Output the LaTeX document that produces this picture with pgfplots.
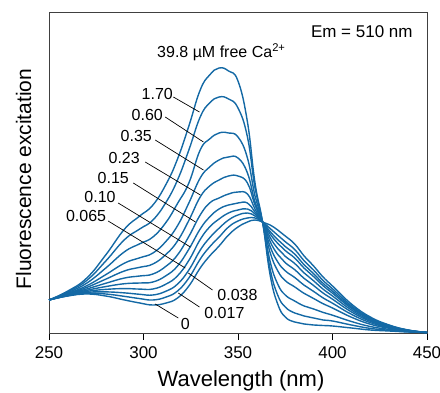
\documentclass[border=0pt]{standalone}
\usepackage{fontspec}
\setmainfont{Liberation Sans}
\usepackage{pgfplots}
\pgfplotsset{compat=1.18}
\usepackage{pgfplotstable}
\definecolor{curve}{RGB}{20,105,165}
\pgfplotsset{spec/.style={color=curve, solid, line width=1.4pt, smooth, tension=0.75, mark=none}}
\pgfplotstableread{
nm  c0   c017  c038  c065  c10   c15   c23   c35   c60   c170  c398
250 33   33    33    33    33    33    33    33    33    33    33
260 37   37.3  37.5  37.8  38.2  38.6  39    39.6  40.4  41.3  42
270 39   39.8  40.6  41.6  42.7  44    45.6  47.3  49.9  52.6  55
280 37   39    41.1  43.6  46.4  49.7  53.8  58.3  64.9  71.9  78
290 33   36.6  40.1  44.4  49.3  55    62.1  69.9  81.3  93.4  104
298 30   34.4  38.7  43.9  50    57    65.7  75.2  89.2  104   117
305 28   33    38    44    51    59    69    80    96    113   128
312 30   36    41.9  49    57.4  66.9  78.8  91.9  110.9 131   149
318 35   42    48.9  57.2  67    78.1  92    107.3 129.5 153   174
324 47   55    63    72.6  83.8  96.6  112.6 130   150   183   207
330 65   73.9  82.8  93.5  104   118   136   155   183   216   243
335 77   86.1  95.2  106   116   130   147   166   194   230   258
340 87   95.9  104.8 114   124   135   153   173   200   236   265
345 98   106   113   120   128   139   157   176   200   234   262
350 106  112   118   123   130   141   157   175   196   225   252
355 111  115   120   124   130   139   150   160   175   196   211
359 113  115   117   119   121   124   128   131   137   145   150
363 111  111   111   111   111   111   111   111   111   111   111
367 108  104.5 101.5 99    95.5  91.5  86.5  80.5  71.5  64    58
371 103  97.8  93.4  89.7  84.5  78.6  71.2  62.3  49    38    29
375 97   91.3  86.5  82.4  76.7  70.3  62.2  52.4  38    26    16
380 89   83.5  78.9  75    69.5  63.3  55.5  46.1  32    20    11
385 77   72.2  68.2  64.8  60    54.6  47.8  39.6  27    17    9
390 67   62.9  59.3  56.4  52.2  47.5  41.6  34.5  24    15    8
395 56   52.6  49.7  47.3  43.9  40    35.1  29.3  20.6  13    7.5
400 47   44.2  41.8  39.8  37    33.8  29.8  25    17.8  12    7
410 29   27.3  25.9  24.7  23    21.1  18.7  15.8  11.5  8     5
420 16   15.1  14.3  13.7  12.7  11.7  10.4  8.8   6.5   4.6   3
430 8    7.6   7.2   6.9   6.5   6     5.4   4.7   3.6   2.7   2
440 3    2.9   2.7   2.6   2.5   2.3   2.1   1.9   1.5   1.2   1
450 0.5  0.5   0.5   0.5   0.5   0.5   0.5   0.5   0.5   0.5   0.5
}\spectra
\begin{document}
\begin{tikzpicture}
\begin{axis}[
  scale only axis, width=378pt, height=321pt,
  xmin=250, xmax=450, ymin=0, ymax=321,
  xtick={250,300,350,400,450}, ytick=\empty,
  xtick pos=bottom, tick align=outside, major tick length=7pt,
  axis line style={black!75, line width=0.8pt},
  tick style={black, line width=0.8pt},
  /pgf/number format/assume math mode=true,
  xticklabel style={font=\fontsize{17}{17}\selectfont, yshift=-3pt},
  xlabel={Wavelength (nm)},
  xlabel style={font=\fontsize{22}{22}\selectfont, at={(axis description cs:0.508,0)}, anchor=base, yshift=-54pt},
  ylabel={Fluorescence excitation},
  ylabel style={font=\fontsize{21}{21}\selectfont, at={(axis description cs:-0.0476,0.48)}, anchor=base},
  clip=false,
]
\coordinate (SW) at (rel axis cs:0,0);
\coordinate (NE) at (rel axis cs:1,1);
\addplot[spec] table[x=nm, y=c0] {\spectra};
\addplot[spec] table[x=nm, y=c017] {\spectra};
\addplot[spec] table[x=nm, y=c038] {\spectra};
\addplot[spec] table[x=nm, y=c065] {\spectra};
\addplot[spec] table[x=nm, y=c10] {\spectra};
\addplot[spec] table[x=nm, y=c15] {\spectra};
\addplot[spec] table[x=nm, y=c23] {\spectra};
\addplot[spec] table[x=nm, y=c35] {\spectra};
\addplot[spec] table[x=nm, y=c60] {\spectra};
\addplot[spec] table[x=nm, y=c170] {\spectra};
\addplot[spec] table[x=nm, y=c398] {\spectra};
% annotations
\begin{scope}[every node/.style={font=\fontsize{16}{16}\selectfont, inner sep=0pt}]
\node at (axis cs:415.5,301) {\fontsize{17}{17}\selectfont Em = 510 nm};
\node at (axis cs:341.2,281) {39.8 µM free Ca\textsuperscript{2+}};
\node at (axis cs:307.3,239) {1.70};
\node at (axis cs:302,218) {0.60};
\node at (axis cs:296.2,197) {0.35};
\node at (axis cs:289.8,175) {0.23};
\node at (axis cs:284,155) {0.15};
\node at (axis cs:277,136) {0.10};
\node at (axis cs:269.6,117) {0.065};
\node at (axis cs:349.7,38) {0.038};
\node at (axis cs:342.8,20) {0.017};
\node at (axis cs:322.1,9) {0};
\end{scope}
\begin{scope}[black, line width=0.7pt]
\draw (axis cs:315.8,236) -- (axis cs:329.6,221);
\draw (axis cs:311.5,216) -- (axis cs:331.7,191);
\draw (axis cs:306.2,193) -- (axis cs:331.7,163);
\draw (axis cs:300.9,171) -- (axis cs:330.1,138);
\draw (axis cs:294.6,150) -- (axis cs:327.5,111);
\draw (axis cs:286.6,130) -- (axis cs:324.8,86);
\draw (axis cs:281.3,112) -- (axis cs:322.1,65);
\draw (axis cs:336.5,43) -- (axis cs:323.7,60);
\draw (axis cs:329.6,26) -- (axis cs:318.4,40);
\draw (axis cs:318.4,15) -- (axis cs:306.2,29);
\end{scope}
\end{axis}
\pgfresetboundingbox
\path[use as bounding box] ([shift={(-49pt,-60pt)}]SW) rectangle ([shift={(13pt,12pt)}]NE);
\end{tikzpicture}
\end{document}
